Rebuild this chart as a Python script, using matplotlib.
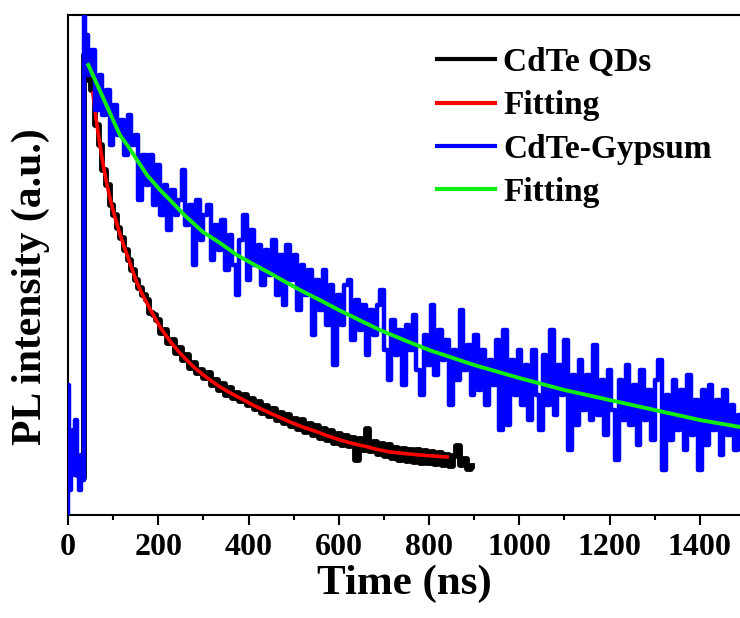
import numpy as np
import matplotlib
matplotlib.use("Agg")
import matplotlib.pyplot as plt
from matplotlib.ticker import MultipleLocator

plt.rcParams['font.family'] = ['Liberation Serif', 'DejaVu Serif']
plt.rcParams['font.weight'] = 'bold'

# ---------------- data ----------------
# CdTe-Gypsum decay (blue), pre-rise part + 8 ns grid
blue_pre_t = [0, 1, 4, 8, 12, 15, 18, 22, 26, 30, 34, 37]
blue_pre_y = [0.0, 0.26, 0.05, 0.13, 0.17, 0.08, 0.19, 0.10, 0.05, 0.12, 0.07, 1.10]
blue_grid_start, blue_grid_step = 40, 8
blue_y = [
    0.96, 0.88, 0.93, 0.81, 0.88, 0.80, 0.85, 0.74, 0.82, 0.76,
    0.79, 0.72, 0.80, 0.74, 0.76, 0.63, 0.72, 0.66, 0.72, 0.62,
    0.70, 0.60, 0.66, 0.57, 0.65, 0.60, 0.63, 0.69, 0.58, 0.62,
    0.50, 0.63, 0.55, 0.60, 0.62, 0.51, 0.58, 0.53, 0.59, 0.49,
    0.56, 0.50, 0.44, 0.55, 0.60, 0.47, 0.57, 0.50, 0.54, 0.46,
    0.53, 0.48, 0.55, 0.44, 0.52, 0.42, 0.54, 0.47, 0.52, 0.41,
    0.50, 0.44, 0.49, 0.36, 0.47, 0.41, 0.49, 0.38, 0.46, 0.30,
    0.44, 0.38, 0.46, 0.47, 0.35, 0.43, 0.37, 0.42, 0.32, 0.41,
    0.36, 0.42, 0.45, 0.33, 0.27, 0.39, 0.32, 0.37, 0.26, 0.38,
    0.33, 0.40, 0.29, 0.24, 0.36, 0.30, 0.42, 0.28, 0.37, 0.31,
    0.35, 0.22, 0.33, 0.27, 0.41, 0.29, 0.34, 0.24,
    0.36, 0.25, 0.33, 0.22, 0.31, 0.26, 0.35, 0.17, 0.37, 0.18,
    0.31, 0.24, 0.33, 0.22, 0.30, 0.19, 0.33, 0.24, 0.17, 0.32,
    0.22, 0.37, 0.20, 0.30, 0.24, 0.35, 0.13, 0.28, 0.18, 0.31,
    0.21, 0.28, 0.19, 0.34, 0.20, 0.27, 0.16, 0.29, 0.21, 0.11,
    0.27, 0.19, 0.30, 0.18, 0.26, 0.14, 0.29, 0.19, 0.25, 0.15,
    0.27, 0.31, 0.09, 0.24, 0.15, 0.27, 0.17, 0.25, 0.13, 0.28,
    0.16, 0.23, 0.09, 0.25, 0.14, 0.26, 0.17, 0.23, 0.12, 0.25,
    0.16, 0.22, 0.13, 0.20,
]

# CdTe QDs decay (black), pre-rise part + 8 ns grid
black_pre_t = [0, 6, 12, 18, 24, 30, 34, 38]
black_pre_y = [0.085, 0.10, 0.09, 0.105, 0.08, 0.10, 0.075, 0.92]
black_grid_start, black_grid_step = 40, 8
black_y = [
    0.90, 0.87, 0.85, 0.78, 0.74, 0.69, 0.66, 0.62, 0.60, 0.575,
    0.555, 0.53, 0.51, 0.49, 0.47, 0.455, 0.44, 0.43, 0.405, 0.40,
    0.39, 0.365, 0.37, 0.345, 0.35, 0.325, 0.335, 0.31, 0.32, 0.295,
    0.305, 0.285, 0.29, 0.275, 0.285, 0.26, 0.27, 0.25, 0.262, 0.24,
    0.255, 0.235, 0.245, 0.228, 0.24, 0.22, 0.232, 0.212, 0.226, 0.205,
    0.218, 0.198, 0.212, 0.19, 0.205, 0.185, 0.20, 0.178, 0.192, 0.172,
    0.19, 0.166, 0.182, 0.16, 0.178, 0.155, 0.172, 0.15, 0.168, 0.145,
    0.163, 0.14, 0.158, 0.138, 0.155, 0.11, 0.152, 0.13, 0.172, 0.128,
    0.146, 0.122, 0.142, 0.118, 0.14, 0.115, 0.135, 0.11, 0.133, 0.108,
    0.13, 0.106, 0.13, 0.104, 0.128, 0.105, 0.126, 0.102, 0.124, 0.10,
    0.12, 0.098, 0.118, 0.138, 0.10, 0.112, 0.092, 0.098,
]

# Fitting curves
red_t = [55, 60, 65, 71, 78, 86, 95, 105, 115, 125, 135, 144, 153, 166, 180,
         192, 204, 217, 230, 246, 263, 281, 300, 318, 337, 360, 381, 414, 447,
         470, 492, 520, 550, 576, 603, 630, 660, 686, 713, 745, 780, 810, 840]
red_y = [0.844, 0.808, 0.775, 0.738, 0.700, 0.662, 0.626, 0.592, 0.562, 0.535,
         0.510, 0.486, 0.464, 0.439, 0.415, 0.395, 0.376, 0.359, 0.343, 0.326,
         0.310, 0.294, 0.280, 0.268, 0.256, 0.244, 0.234, 0.218, 0.204, 0.195,
         0.186, 0.176, 0.167, 0.158, 0.150, 0.143, 0.137, 0.131, 0.126, 0.123,
         0.120, 0.118, 0.116]

green_t = [45, 55, 65, 80, 95, 115, 135, 153, 175, 204, 226, 260, 299, 337, 374,
           410, 447, 480, 514, 560, 600, 650, 691, 750, 800, 850, 900, 950, 1000,
           1100, 1200, 1300, 1400, 1489]
green_y = [0.900, 0.880, 0.860, 0.830, 0.800, 0.760, 0.735, 0.710, 0.680, 0.650,
           0.630, 0.598, 0.566, 0.544, 0.520, 0.502, 0.484, 0.467, 0.450, 0.429,
           0.410, 0.388, 0.370, 0.348, 0.330, 0.315, 0.300, 0.287, 0.274, 0.250,
           0.230, 0.210, 0.190, 0.176]

legend_labels = ["CdTe QDs", "Fitting", "CdTe-Gypsum", "Fitting"]
xticks = [0, 200, 400, 600, 800, 1000, 1200, 1400]

# ---------------- assemble ----------------
blue_t_all = np.concatenate([blue_pre_t,
                             blue_grid_start + blue_grid_step * np.arange(len(blue_y))])
blue_y_all = np.concatenate([blue_pre_y, blue_y])
black_t_all = np.concatenate([black_pre_t,
                              black_grid_start + black_grid_step * np.arange(len(black_y))])
black_y_all = np.concatenate([black_pre_y, black_y])

# ---------------- figure ----------------
fig = plt.figure(figsize=(7.40, 6.18), dpi=100)
ax = fig.add_axes([68 / 740, 103 / 618, 1 - 68 / 740, 500 / 618])

ax.plot(black_t_all, black_y_all, color='black', lw=4.2, label=legend_labels[0],
        zorder=2, drawstyle='steps-mid', solid_joinstyle='round')
ax.plot(red_t, red_y, color='#ff0000', lw=2.6, label=legend_labels[1], zorder=3)
ax.plot(blue_t_all, blue_y_all, color='#0000ff', lw=3.2, label=legend_labels[2],
        zorder=4, drawstyle='steps-mid', solid_joinstyle='round')
ax.plot(green_t, green_y, color='#11ee11', lw=2.8, label=legend_labels[3], zorder=5)

ax.set_xlim(0, 1489)
ax.set_ylim(0, 1)
ax.set_yticks([])
ax.set_xticks(xticks)
ax.xaxis.set_minor_locator(MultipleLocator(100))
ax.tick_params(axis='x', which='major', direction='out', length=7, width=1.5,
               labelsize=23, pad=6)
ax.tick_params(axis='x', which='minor', direction='out', length=3.5, width=1.5)
for lab in ax.get_xticklabels():
    lab.set_fontweight('bold')

for s in ['left', 'bottom', 'top']:
    ax.spines[s].set_linewidth(1.5)
ax.spines['right'].set_visible(False)

ax.set_xlabel("Time (ns)", fontsize=31, fontweight='bold')
ax.xaxis.set_label_coords(0.5, -0.10)
ax.xaxis.label.set_va('top')
ax.set_ylabel("PL intensity (a.u.)", fontsize=30, fontweight='bold')
ax.yaxis.set_label_coords(-0.027, 0.456)

leg = ax.legend(loc='upper left', bbox_to_anchor=(437 / 740, 1 - 47 / 618),
                bbox_transform=fig.transFigure, frameon=False,
                prop={'family': ['Liberation Serif'], 'weight': 'bold', 'size': 24},
                handlelength=1.74, handletextpad=0.25, labelspacing=0.37,
                borderpad=0, borderaxespad=0)
for h in leg.legend_handles:
    h.set_linewidth(3)
    h.set_drawstyle('default')

fig.savefig("out.png", dpi=100)
